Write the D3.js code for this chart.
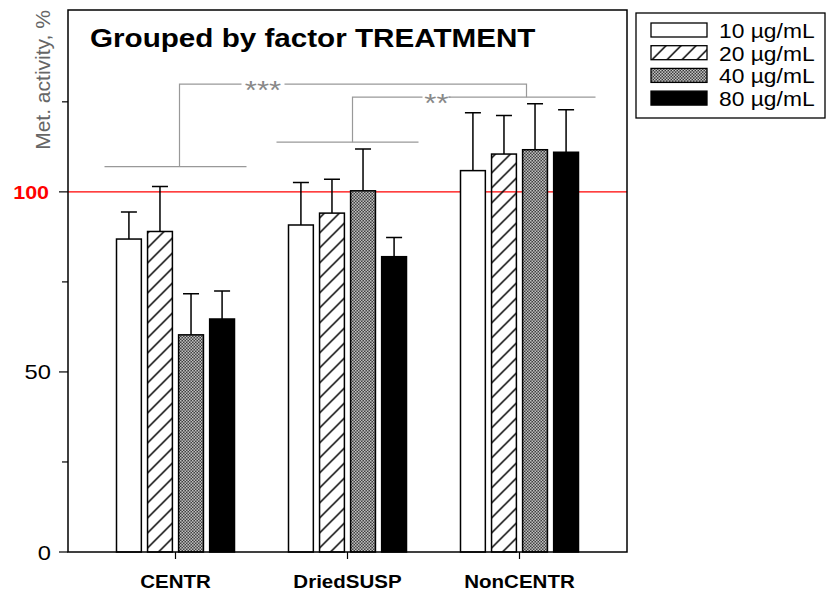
<!DOCTYPE html>
<html>
<head>
<meta charset="utf-8">
<script src="https://cdn.jsdelivr.net/npm/d3@7"></script>
<style>
  body { margin: 0; background: #fff; }
  text { font-family: Arial, "Liberation Sans", sans-serif; }
</style>
</head>
<body>
<div id="chart"></div>
<script>
const groups = ['CENTR', 'DriedSUSP', 'NonCENTR']
const doses = ['10 µg/mL', '20 µg/mL', '40 µg/mL', '80 µg/mL']
// mean values per group, one entry per dose
const means = [
  [86.9, 89.0, 60.3, 64.7],
  [90.8, 94.1, 100.3, 82.0],
  [105.9, 110.5, 111.7, 111.0]
]
// upper end of error bars
const errTops = [
  [94.4, 101.5, 71.7, 72.5],
  [102.6, 103.5, 111.9, 87.3],
  [122.0, 121.2, 124.5, 122.8]
]
const yTicks = [0, 25, 50, 75, 100, 125]
const yLabels = {0: '0', 50: '50', 100: '100'}
// level of the line over each group, then the two comparison brackets
const groupLevels = [107, 113.8, 126.3]
const sigLabels = ['***', '**']
const sigLevels = [129.9, 126.3]

const W = 826, H = 593
const margin = {top: 10, right: 199, bottom: 41, left: 68}
const iw = W - margin.left - margin.right
const ih = H - margin.top - margin.bottom
const SX = 1.13 // the original text is drawn a bit wider

const svg = d3.select('#chart').append('svg')
  .attr('width', W).attr('height', H)

// text helper, stretched horizontally around its anchor
function label(parent, x, y, str, size, opts = {}) {
  return parent.append('text')
    .attr('transform', `translate(${x},${y}) scale(${opts.sx || SX},1)`)
    .attr('text-anchor', opts.anchor || 'start')
    .style('font-size', size + 'px')
    .style('font-weight', opts.bold ? 'bold' : 'normal')
    .style('fill', opts.fill || '#000')
    .text(str)
}

// patterns
const defs = svg.append('defs')
const hatch = defs.append('pattern')
  .attr('id', 'hatch').attr('patternUnits', 'userSpaceOnUse')
  .attr('width', 15).attr('height', 15)
hatch.append('path')
  .attr('d', 'M-2,17 L17,-2 M-2,2 L2,-2 M13,17 L17,13')
  .attr('stroke', '#000').attr('stroke-width', 1.5)
const checks = defs.append('pattern')
  .attr('id', 'checks').attr('patternUnits', 'userSpaceOnUse')
  .attr('width', 3).attr('height', 3)
checks.append('rect').attr('width', 3).attr('height', 3).attr('fill', '#fff')
checks.append('rect').attr('width', 1.5).attr('height', 1.5).attr('fill', '#000')
checks.append('rect').attr('x', 1.5).attr('y', 1.5).attr('width', 1.5).attr('height', 1.5).attr('fill', '#000')
const fills = ['#fff', 'url(#hatch)', 'url(#checks)', '#000']

const g = svg.append('g').attr('transform', `translate(${margin.left},${margin.top})`)

const y = d3.scaleLinear().domain([0, 150.5]).range([ih, 0])
const x = d3.scalePoint().domain(groups).range([0, iw]).padding(0.625)
const xb = d3.scaleBand().domain(doses).range([-59, 59]).paddingInner(0.2)

// reference line at 100
g.append('line')
  .attr('x1', 0).attr('x2', iw)
  .attr('y1', y(100)).attr('y2', y(100))
  .attr('stroke', '#f00').attr('stroke-width', 1.3)

// bars
const grp = g.selectAll('.grp')
  .data(groups)
  .enter().append('g')
  .attr('transform', d => `translate(${x(d)},0)`)

grp.each(function(gname, gi) {
  const sel = d3.select(this)
  const data = doses.map((d, i) => ({dose: d, i: i, v: means[gi][i], e: errTops[gi][i]}))
  sel.selectAll('.err')
    .data(data)
    .enter().append('path')
    .attr('d', d => {
      const cx = xb(d.dose) + xb.bandwidth() / 2
      return `M${cx},${y(d.v)} V${y(d.e)} M${cx - 8},${y(d.e)} H${cx + 8}`
    })
    .attr('stroke', '#000').attr('stroke-width', 1.5).attr('fill', 'none')
  sel.selectAll('.bar')
    .data(data)
    .enter().append('rect')
    .attr('x', d => xb(d.dose))
    .attr('width', xb.bandwidth())
    .attr('y', d => y(d.v))
    .attr('height', d => y(0) - y(d.v))
    .attr('fill', d => fills[d.i])
    .attr('stroke', '#000').attr('stroke-width', 1.5)
})

// significance brackets
const bc = '#999'
const half = 71
groups.forEach((gname, i) => {
  g.append('line')
    .attr('x1', x(gname) - half).attr('x2', x(gname) + (i === 2 ? 76 : half))
    .attr('y1', y(groupLevels[i])).attr('y2', y(groupLevels[i]))
    .attr('stroke', bc).attr('stroke-width', 1.2)
})

const bl = [
  {x0: x(groups[0]) + 4, x1: x(groups[2]) + 7, base0: groupLevels[0], base1: groupLevels[2], gap: [x(groups[0]) + 66, x(groups[0]) + 109]},
  {x0: x(groups[1]) + 5, x1: x(groups[2]) - 71, base0: groupLevels[1], base1: groupLevels[2], gap: [x(groups[1]) + 75, x(groups[1]) + 103]}
]
bl.forEach((b, i) => {
  const top = y(sigLevels[i])
  g.append('path')
    .attr('d', `M${b.x0},${y(b.base0)} V${top} H${b.gap[0]} M${b.gap[1]},${top} H${b.x1} V${y(b.base1)}`)
    .attr('stroke', bc).attr('stroke-width', 1.2).attr('fill', 'none')
  label(g, (b.gap[0] + b.gap[1]) / 2, top + 15, sigLabels[i], 26, {anchor: 'middle', fill: '#888', sx: 1.2})
})

// frame
g.append('rect')
  .attr('width', iw).attr('height', ih)
  .attr('fill', 'none').attr('stroke', '#000').attr('stroke-width', 1.5)

// y axis
g.selectAll('.yt')
  .data(yTicks)
  .enter().append('line')
  .attr('x1', d => yLabels[d] ? -9 : -6).attr('x2', 0)
  .attr('y1', d => y(d)).attr('y2', d => y(d))
  .attr('stroke', '#000').attr('stroke-width', 1.2)
yTicks.filter(d => yLabels[d]).forEach(d => {
  if (d === 100) {
    label(g, -19, y(d) + 7, yLabels[d], 18.5, {anchor: 'end', bold: true, fill: '#f00', sx: 1.16})
  } else {
    label(g, -17, y(d) + 7.5, yLabels[d], 21, {anchor: 'end'})
  }
})

g.append('text')
  .attr('transform', `translate(-18,${y(150.5) + 70}) rotate(-90)`)
  .attr('text-anchor', 'middle')
  .style('font-size', '21px')
  .style('fill', '#666')
  .text('Met. activity, %')

// x axis
g.selectAll('.xt')
  .data(groups)
  .enter().append('line')
  .attr('x1', d => x(d)).attr('x2', d => x(d))
  .attr('y1', ih).attr('y2', ih + 7)
  .attr('stroke', '#000').attr('stroke-width', 1.2)
groups.forEach(d => label(g, x(d), ih + 36, d, 19, {anchor: 'middle', bold: true, sx: 1.08}))

// title
label(g, 22, 37, 'Grouped by factor TREATMENT', 26, {bold: true, sx: 1.14})

// legend
const lg = svg.append('g').attr('transform', 'translate(636,13)')
lg.append('rect')
  .attr('width', 189).attr('height', 105)
  .attr('fill', '#fff').attr('stroke', '#000').attr('stroke-width', 1.3)
doses.forEach((d, i) => {
  const row = lg.append('g').attr('transform', `translate(15,${10 + i * 22.7})`)
  row.append('rect')
    .attr('width', 56).attr('height', 14)
    .attr('fill', fills[i])
    .attr('stroke', '#000').attr('stroke-width', 1.3)
  label(row, 68, 15, d, 19.5, {sx: 1.17})
})
</script>
</body>
</html>
